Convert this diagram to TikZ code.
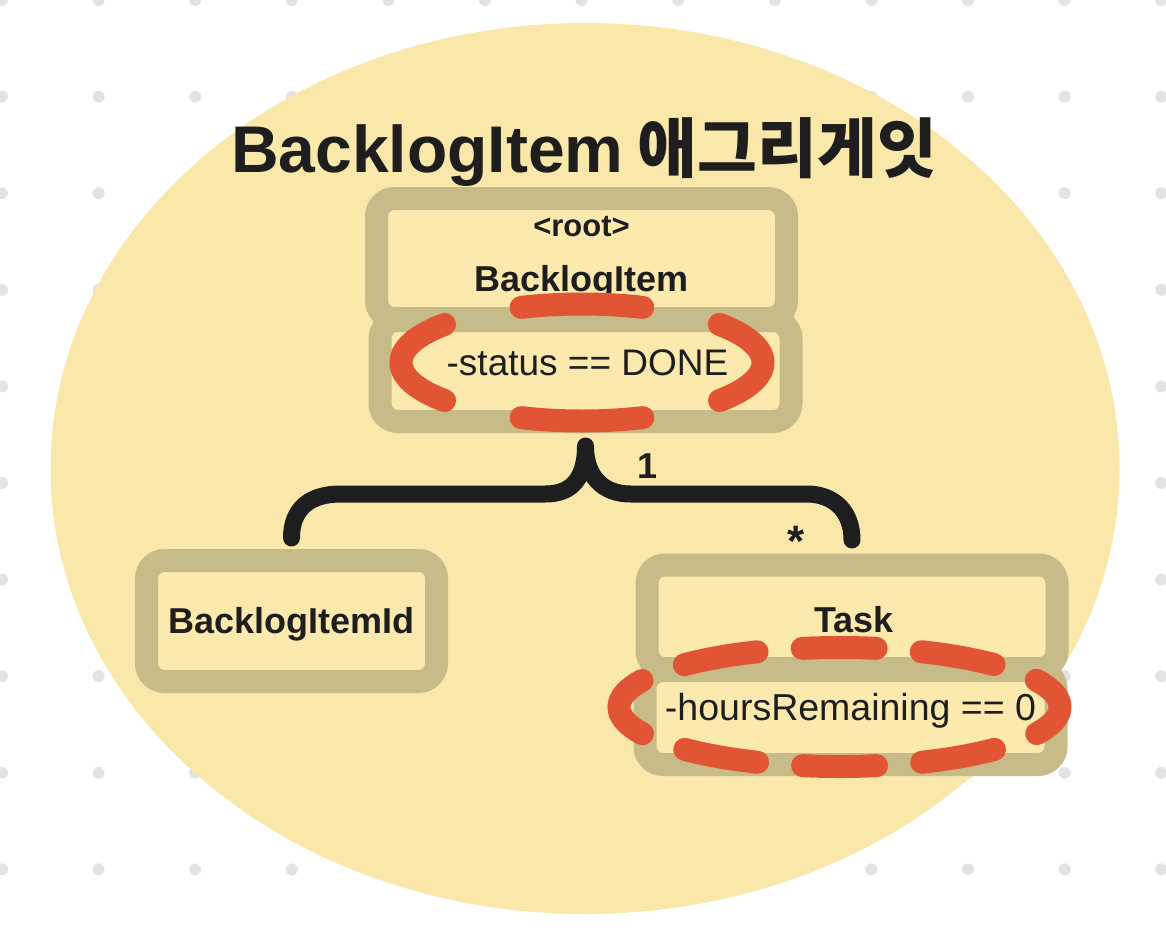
\documentclass[tikz,border=0pt]{standalone}
\usepackage{fontspec}
\setmainfont{Liberation Sans}
\newfontfamily\krfont{Noto Sans CJK KR}
\definecolor{bgyellow}{HTML}{FAE8AB}
\definecolor{boxfill}{HTML}{FBE9AD}
\definecolor{tan}{HTML}{C8BB8A}
\definecolor{ringred}{HTML}{E15535}
\definecolor{ink}{HTML}{1E1E1E}
\definecolor{dotgrey}{HTML}{E3E3E3}
\begin{document}
\begin{tikzpicture}[x=1pt,y=-1pt,
  box/.style={draw=tan, fill=boxfill, line width=23pt, rounded corners=18pt,
    inner sep=0pt, outer sep=11.5pt},
  lbl/.style={text=ink, inner sep=0pt, anchor=base},
  boxtitle/.style={lbl, font=\bfseries\fontsize{36}{36}\selectfont},
  attr/.style={lbl, font=\fontsize{37}{37}\selectfont},
  brace/.style={draw=ink, line width=17pt, line cap=round, line join=round},
  ring/.style={draw=ringred, line width=23pt, line cap=round}]
\useasboundingbox (0,0) rectangle (1166,950);

% dotted canvas
\foreach \i in {0,...,12}
  \foreach \j in {0,...,9}
    \fill[dotgrey] (2+96.6*\i, 96.6*\j) circle [radius=6pt];

% aggregate boundary
\fill[bgyellow] (585,468.5) ellipse [x radius=534.5, y radius=445.5];

% entity boxes
\node[box, minimum width=410pt, minimum height=120pt] (rootbox) at (581.5,258.5) {};
\node[box, minimum width=411pt, minimum height=101pt] (statusbox) at (585.5,371) {};
\node[box, minimum width=290pt, minimum height=121pt] (idbox) at (291.5,621) {};
\node[box, minimum width=410pt, minimum height=103.5pt] (taskbox) at (852,616.75) {};
\node[box, minimum width=411pt, minimum height=94pt] (hoursbox) at (850.5,717.5) {};

% texts
\node[lbl, font=\bfseries\fontsize{66}{66}\selectfont] (title) at (584,172)
  {BacklogItem\hspace{-4pt} {\krfont\fontsize{65}{65}\selectfont 애그리게잇}};
\node[lbl, font=\bfseries\fontsize{31}{31}\selectfont] (roottag) at (581.5,236) {<root>};
\node[boxtitle] (rootname) at (581.5,291) {BacklogItem};
\node[attr] (status) at (587.5,375) {-status == DONE};
\node[boxtitle] (idname) at (291.5,633) {BacklogItemId};
\node[boxtitle] (taskname) at (854,632) {Task};
\node[attr, font=\fontsize{37.5}{37.5}\selectfont] (hours) at (850.5,720) {-hoursRemaining == 0};

% composition brace
\coordinate (tip) at ([yshift=-13pt]statusbox.south);
\coordinate (lend) at ([yshift=11pt]idbox.north);
\coordinate (rend) at ([yshift=13.5pt]taskbox.north);
\draw[brace] (lend) .. controls +(0,-30) and +(-30,0) .. ++(49,-44) -- ++(205,0)
  .. controls +(28,0) and +(0,30) .. (tip)
  .. controls +(0,30) and +(-28,0) .. ++(45,48) -- ++(176,0)
  .. controls +(28,0) and +(0,-28) .. (rend);
\node[boxtitle] (one) at (648,478) {1};
\node[lbl, font=\bfseries\fontsize{44}{44}\selectfont] (many) at (796,556) {*};

% invariant highlights
\draw[ring, dash pattern=on 122pt off 78.6pt, dash phase=61pt]
  (582,362.5) ellipse [x radius=181, y radius=58.5];
\draw[ring, dash pattern=on 74pt off 45.2pt, dash phase=37pt]
  (839.5,707) ellipse [x radius=220.5, y radius=59.5];
\end{tikzpicture}
\end{document}
